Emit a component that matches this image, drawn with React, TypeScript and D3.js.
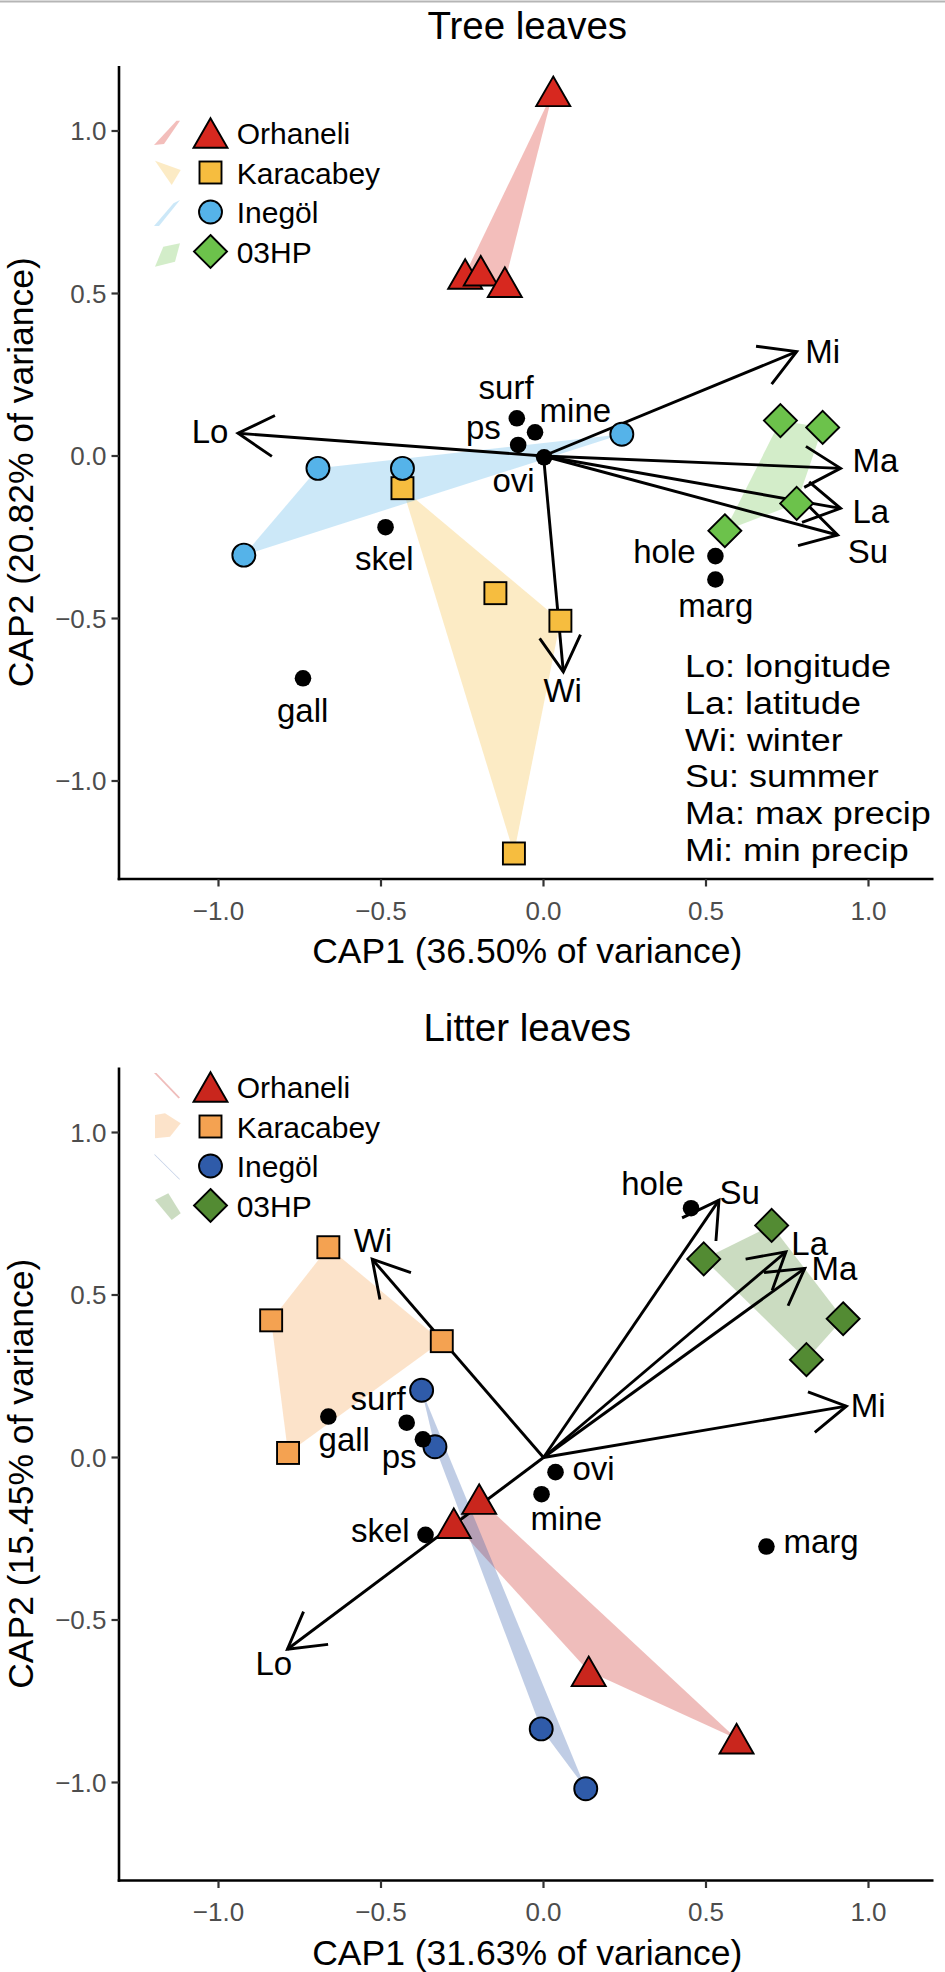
import React from "react";
import * as d3 from "d3";

// ---------- data ----------
const siteNames = ["Orhaneli", "Karacabey", "Inegöl", "03HP"];
const siteShapes = ["triangle", "square", "circle", "diamond"];
const treeColors = ["#D7281F", "#F6BD3F", "#55B3E9", "#6CC24B"];
const litterColors = ["#C9261D", "#F4A251", "#2F5BA9", "#538B33"];

const axisTicks = [-1, -0.5, 0, 0.5, 1];
const axisTickLabels = ["\u22121.0", "\u22120.5", "0.0", "0.5", "1.0"];

// Tree leaves (CAP1, CAP2)
const treeOrhaneli = [[0.030, 1.122], [-0.241, 0.560], [-0.193, 0.570], [-0.119, 0.535]];
const treeKaracabey = [[-0.434, -0.099], [-0.148, -0.422], [0.052, -0.507], [-0.091, -1.223]];
const treeInegol = [[-0.694, -0.038], [-0.434, -0.038], [-0.922, -0.305], [0.241, 0.067]];
const tree03HP = [[0.729, 0.109], [0.859, 0.088], [0.779, -0.146], [0.558, -0.230]];

const treeSpeciesNames = ["surf", "mine", "ps", "ovi", "skel", "hole", "marg", "gall"];
const treeSpeciesXY = [[-0.082, 0.116], [-0.026, 0.073], [-0.078, 0.034], [0.002, -0.004], [-0.486, -0.219], [0.529, -0.308], [0.529, -0.380], [-0.740, -0.684]];
const treeSpeciesLabelXY = [[-0.115, 0.174], [0.098, 0.106], [-0.185, 0.051], [-0.092, -0.110], [-0.490, -0.351], [0.372, -0.328], [0.530, -0.494], [-0.741, -0.818]];

const treeEnvNames = ["Lo", "Mi", "Ma", "La", "Su", "Wi"];
const treeEnvXY = [[-0.940, 0.070], [0.779, 0.321], [0.914, -0.038], [0.914, -0.161], [0.905, -0.243], [0.061, -0.664]];
const treeEnvLabelXY = [[-1.026, 0.039], [0.859, 0.286], [1.021, -0.048], [1.007, -0.206], [0.998, -0.329], [0.059, -0.756]];

const envDescriptions = ["Lo: longitude", "La: latitude", "Wi: winter", "Su: summer", "Ma: max precip", "Mi: min precip"];

// Litter leaves
const litterOrhaneli = [[-0.198, -0.128], [-0.276, -0.202], [0.139, -0.658], [0.594, -0.865]];
const litterKaracabey = [[-0.662, 0.647], [-0.838, 0.422], [-0.313, 0.358], [-0.786, 0.014]];
const litterInegol = [[-0.375, 0.207], [-0.334, 0.033], [-0.007, -0.835], [0.130, -1.019]];
const litter03HP = [[0.702, 0.714], [0.493, 0.611], [0.922, 0.427], [0.809, 0.301]];

const litterSpeciesNames = ["hole", "gall", "surf", "ps", "skel", "ovi", "mine", "marg"];
const litterSpeciesXY = [[0.454, 0.767], [-0.662, 0.126], [-0.421, 0.107], [-0.371, 0.056], [-0.363, -0.238], [0.037, -0.045], [-0.006, -0.113], [0.686, -0.274]];
const litterSpeciesLabelXY = [[0.335, 0.808], [-0.613, 0.020], [-0.509, 0.146], [-0.444, -0.031], [-0.502, -0.260], [0.154, -0.068], [0.070, -0.222], [0.854, -0.294]];

const litterEnvNames = ["Lo", "Mi", "Ma", "La", "Su", "Wi"];
const litterEnvXY = [[-0.788, -0.590], [0.932, 0.158], [0.804, 0.582], [0.746, 0.633], [0.540, 0.792], [-0.527, 0.610]];
const litterEnvLabelXY = [[-0.830, -0.670], [0.999, 0.126], [0.895, 0.546], [0.819, 0.623], [0.604, 0.779], [-0.525, 0.633]];

// legend key glyphs (hull-like slivers), offsets relative to key centre
const treeKeyShapes = [
  [[-13.5, 12], [-3.5, 11], [12.5, -12.3], [9, -12.3]],
  [[-12.5, -11.8], [13.2, -2.5], [4.2, 12.5]],
  [[-13.5, 14], [-8.5, 14], [12.5, -12], [6, -8.7]],
  [[-12.5, 15.2], [-4.2, -4.8], [12.5, -8.2], [7.5, 10.2]],
];
const litterKeyShapes = [
  [[-13.5, -14], [-11, -14], [12.5, 10.5], [11, 11.5]],
  [[-12.5, -11.5], [-2.5, -13.2], [13.2, -3.2], [2.5, 10.2], [-12.5, 11.8]],
  [[-13.5, -11.5], [-12.5, -11.5], [12.5, 13.3], [11.8, 13.6]],
  [[-12.5, -5.5], [0.8, -12.2], [13.2, 7.8], [4.2, 14.5]],
];

const FONT = "'Liberation Sans', Arial, Helvetica, sans-serif";

function Symbol({ shape, cx, cy, fill }: { shape: string; cx: number; cy: number; fill: string }) {
  const sw = 1.9;
  if (shape === "triangle") {
    const s = 17, h = 14.8;
    return <path d={`M${cx},${cy - h}L${cx + s},${cy + h}L${cx - s},${cy + h}Z`} fill={fill} stroke="#000" strokeWidth={sw} strokeLinejoin="miter" />;
  }
  if (shape === "square") {
    return <rect x={cx - 11} y={cy - 11} width={22} height={22} fill={fill} stroke="#000" strokeWidth={sw} />;
  }
  if (shape === "circle") {
    return <circle cx={cx} cy={cy} r={11.5} fill={fill} stroke="#000" strokeWidth={sw} />;
  }
  const r = 16.5;
  return <path d={`M${cx},${cy - r}L${cx + r},${cy}L${cx},${cy + r}L${cx - r},${cy}Z`} fill={fill} stroke="#000" strokeWidth={sw} />;
}

type PanelProps = {
  title: string;
  top: number; // panel top pixel
  groups: number[][][];
  colors: string[];
  speciesNames: string[];
  speciesXY: number[][];
  speciesLabelXY: number[][];
  envNames: string[];
  envXY: number[][];
  envLabelXY: number[][];
  xTitle: string;
  yTitle: string;
  legendTop: number;
  keyShapes: number[][][];
  showBox: boolean;
};

function Panel(p: PanelProps) {
  const left = 121, right = 933.5;
  const height = 812.5;
  const bottom = p.top + height;
  const x = d3.scaleLinear().domain([-1.3, 1.2]).range([left, right]);
  const y = d3.scaleLinear().domain([-1.3, 1.2]).range([bottom, p.top]);
  const axisX = 119;
  const axisY = bottom + 0.5;

  const arrowHead = (x0: number, y0: number, x1: number, y1: number) => {
    const ang = Math.atan2(y0 - y1, x0 - x1);
    const L = 41, a = (30 * Math.PI) / 180;
    const p1 = [x1 + L * Math.cos(ang + a), y1 + L * Math.sin(ang + a)];
    const p2 = [x1 + L * Math.cos(ang - a), y1 + L * Math.sin(ang - a)];
    return `M${p1[0]},${p1[1]}L${x1},${y1}L${p2[0]},${p2[1]}`;
  };

  return (
    <g fontFamily={FONT}>
      <text x={(left + right) / 2} y={p.top - 27} textAnchor="middle" fontSize={38.5} fill="#000">{p.title}</text>

      {/* hulls */}
      {p.groups.map((pts, i) => {
        const hull = d3.polygonHull(pts.map((d) => [x(d[0]), y(d[1])] as [number, number]));
        return hull ? <path key={"h" + i} d={"M" + hull.join("L") + "Z"} fill={p.colors[i]} fillOpacity={0.3} stroke="none" /> : null;
      })}

      {/* arrows */}
      {p.envXY.map((d, i) => {
        const x0 = x(0), y0 = y(0), x1 = x(d[0]), y1 = y(d[1]);
        return (
          <g key={"a" + i} stroke="#000" strokeWidth={2.9} fill="none" strokeLinecap="butt">
            <line x1={x0} y1={y0} x2={x1} y2={y1} />
            <path d={arrowHead(x0, y0, x1, y1)} strokeLinejoin="miter" />
          </g>
        );
      })}

      {/* group points */}
      {p.groups.map((pts, i) =>
        pts.map((d, j) => <Symbol key={`p${i}-${j}`} shape={siteShapes[i]} cx={x(d[0])} cy={y(d[1])} fill={p.colors[i]} />)
      )}

      {/* species */}
      {p.speciesXY.map((d, i) => <circle key={"s" + i} cx={x(d[0])} cy={y(d[1])} r={8.3} fill="#000" />)}
      {p.speciesLabelXY.map((d, i) => (
        <text key={"sl" + i} x={x(d[0])} y={y(d[1])} textAnchor="middle" fontSize={33} fill="#000">{p.speciesNames[i]}</text>
      ))}
      {p.envLabelXY.map((d, i) => (
        <text key={"el" + i} x={x(d[0])} y={y(d[1])} textAnchor="middle" fontSize={33} fill="#000">{p.envNames[i]}</text>
      ))}

      {/* legend */}
      {siteNames.map((n, i) => {
        const cy = p.legendTop + i * 39.5;
        const key = p.keyShapes[i];
        return (
          <g key={"l" + i}>
            <path d={"M" + key.map((k) => [167.5 + k[0], cy + k[1]]).join("L") + "Z"} fill={p.colors[i]} fillOpacity={0.3} />
            <Symbol shape={siteShapes[i]} cx={210.5} cy={cy} fill={p.colors[i]} />
            <text x={236.7} y={cy + 11} fontSize={30} fill="#000">{n}</text>
          </g>
        );
      })}

      {p.showBox &&
        envDescriptions.map((t, i) => (
          <text key={"b" + i} transform={`translate(685,${677.3 + i * 36.7}) scale(1.16,1)`} fontSize={31} fill="#000">{t}</text>
        ))}

      {/* axes */}
      <line x1={axisX} y1={p.top} x2={axisX} y2={axisY + 1.3} stroke="#000" strokeWidth={2.6} />
      <line x1={axisX - 1.3} y1={axisY} x2={right} y2={axisY} stroke="#000" strokeWidth={2.6} />
      {axisTicks.map((t, i) => (
        <g key={"xt" + i}>
          <line x1={x(t)} x2={x(t)} y1={axisY} y2={axisY + 7.5} stroke="#333" strokeWidth={2.2} />
          <text x={x(t)} y={axisY + 40.5} textAnchor="middle" fontSize={26} fill="#4D4D4D">{axisTickLabels[i]}</text>
          <line x1={axisX - 7.5} x2={axisX} y1={y(t)} y2={y(t)} stroke="#333" strokeWidth={2.2} />
          <text x={106.5} y={y(t) + 9.3} textAnchor="end" fontSize={26} fill="#4D4D4D">{axisTickLabels[i]}</text>
        </g>
      ))}
      <text x={(left + right) / 2} y={axisY + 84} textAnchor="middle" fontSize={35.5} fill="#000">{p.xTitle}</text>
      <text transform={`translate(33,${(p.top + bottom) / 2}) rotate(-90)`} textAnchor="middle" fontSize={35.5} fill="#000">{p.yTitle}</text>
    </g>
  );
}

export default function App() {
  return (
    <div style={{ position: "absolute", left: 0, top: 0 }}>
      <svg width={945} height={1972} viewBox="0 0 945 1972" style={{ display: "block", background: "#fff" }}>
        <rect x={0} y={0} width={945} height={1972} fill="#fff" />
        <line x1={0} x2={945} y1={1.5} y2={1.5} stroke="#B5B5B5" strokeWidth={2} />
        <Panel
          title="Tree leaves"
          top={66}
          groups={[treeOrhaneli, treeKaracabey, treeInegol, tree03HP]}
          colors={treeColors}
          speciesNames={treeSpeciesNames}
          speciesXY={treeSpeciesXY}
          speciesLabelXY={treeSpeciesLabelXY}
          envNames={treeEnvNames}
          envXY={treeEnvXY}
          envLabelXY={treeEnvLabelXY}
          xTitle="CAP1 (36.50% of variance)"
          yTitle="CAP2 (20.82% of variance)"
          legendTop={133}
          keyShapes={treeKeyShapes}
          showBox={true}
        />
        <Panel
          title="Litter leaves"
          top={1067.5}
          groups={[litterOrhaneli, litterKaracabey, litterInegol, litter03HP]}
          colors={litterColors}
          speciesNames={litterSpeciesNames}
          speciesXY={litterSpeciesXY}
          speciesLabelXY={litterSpeciesLabelXY}
          envNames={litterEnvNames}
          envXY={litterEnvXY}
          envLabelXY={litterEnvLabelXY}
          xTitle="CAP1 (31.63% of variance)"
          yTitle="CAP2 (15.45% of variance)"
          legendTop={1087}
          keyShapes={litterKeyShapes}
          showBox={false}
        />
      </svg>
    </div>
  );
}
